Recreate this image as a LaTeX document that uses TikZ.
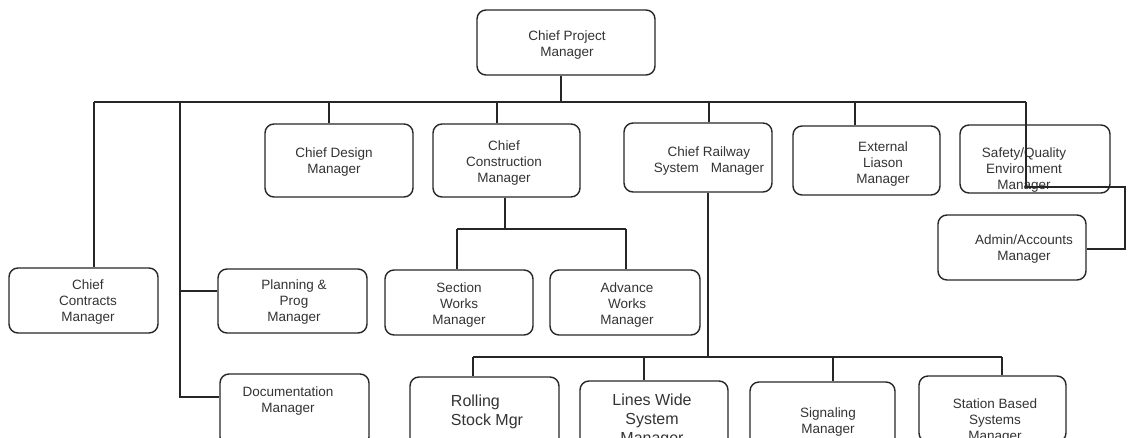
\documentclass[tikz,border=0pt]{standalone}
\usepackage{fontspec}
\setmainfont{Liberation Sans}
\begin{document}
\begin{tikzpicture}[x=1pt,y=-1pt,
  box/.style={draw=black!85,line width=1.4pt,rounded corners=9pt,inner sep=0pt},
  txt/.style={align=center,text=black!80,font=\fontsize{13.5}{16}\selectfont,inner sep=0pt},
  bigtxt/.style={txt,font=\fontsize{16}{19}\selectfont},
  link/.style={draw=black!85,line width=1.2pt}]
\useasboundingbox (0,0) rectangle (1128,437);
\clip (0,0) rectangle (1128,437);

% boxes
\node[box,minimum width=178,minimum height=65] (cpm) at (566,42.5) {};
\node[box,minimum width=148,minimum height=73] (cdm) at (339,160.5) {};
\node[box,minimum width=147,minimum height=73] (ccm) at (506.5,160.5) {};
\node[box,minimum width=148,minimum height=69] (crs) at (698,157.5) {};
\node[box,minimum width=147,minimum height=69] (ext) at (866.5,160.5) {};
\node[box,minimum width=150,minimum height=68] (sqe) at (1035,159) {};
\node[box,minimum width=148,minimum height=65] (adm) at (1012,247.5) {};
\node[box,minimum width=149,minimum height=65] (ccon) at (83.5,300.5) {};
\node[box,minimum width=149,minimum height=64] (plan) at (292.5,301) {};
\node[box,minimum width=148,minimum height=65] (sec) at (459,302.5) {};
\node[box,minimum width=150,minimum height=65] (adv) at (625,302.5) {};
\node[box,minimum width=149,minimum height=72] (doc) at (294.5,410) {};
\node[box,minimum width=149,minimum height=72] (roll) at (484.5,413) {};
\node[box,minimum width=148,minimum height=72] (lwm) at (654,417) {};
\node[box,minimum width=145,minimum height=72] (sig) at (822.5,418) {};
\node[box,minimum width=147,minimum height=66] (stn) at (992.5,409) {};

% labels
\node[txt] (t-cpm) at (567,45.5) {Chief Project\\Manager};
\node[txt] (t-cdm) at (334,162) {Chief Design\\Manager};
\node[txt] (t-ccm) at (504,163.5) {Chief\\Construction\\Manager};
\node[txt] (t-crs) at (709,161.5) {Chief Railway\\System\hspace{0.9em}Manager};
\node[txt] (t-ext) at (883,164) {External\\Liason\\Manager};
\node[txt] (t-sqe) at (1024,170) {Safety/Quality\\Environment\\Manager};
\node[txt] (t-adm) at (1024,249) {Admin/Accounts\\Manager};
\node[txt] (t-ccon) at (88,302.5) {Chief\\Contracts\\Manager};
\node[txt] (t-plan) at (294,302.5) {Planning \&\\Prog\\Manager};
\node[txt] (t-sec) at (459,305) {Section\\Works\\Manager};
\node[txt] (t-adv) at (627,305) {Advance\\Works\\Manager};
\node[txt] (t-doc) at (288,401) {Documentation\\Manager};
\node[bigtxt,align=left] (t-roll) at (487,411.5) {Rolling\\Stock Mgr};
\node[bigtxt] (t-lwm) at (652,420) {Lines Wide\\System\\Manager};
\node[txt] (t-sig) at (828,422) {Signaling\\Manager};
\node[txt] (t-stn) at (995,421) {Station Based\\Systems\\Manager};

% junction points on the main bus
\coordinate (jP) at (561,102);
\coordinate (jL) at (94,102);
\coordinate (jM) at (180,102);
\coordinate (jD) at (329,102);
\coordinate (jC) at (497,102);
\coordinate (jR) at (709,102);
\coordinate (jE) at (855,102);
\coordinate (jS) at (1026,102);

% main bus
\draw[link] (jP |- cpm.south) -- (jP);
\draw[link] (jL) -- (jS);
\draw[link] (jL) -- (jL |- ccon.north);
\draw[link] (jD) -- (jD |- cdm.north);
\draw[link] (jC) -- (jC |- ccm.north);
\draw[link] (jR) -- (jR |- crs.north);
\draw[link] (jE) -- (jE |- ext.north);

% planning and documentation branch
\coordinate (pP) at (180,291);
\coordinate (pD) at (180,397);
\draw[link] (jM) -- (pD) -- (pD -| doc.west);
\draw[link] (pP) -- (pP -| plan.west);

% safety line to admin
\coordinate (sA) at (1026,187);
\coordinate (sB) at (1125,187);
\coordinate (sC) at (1125,249);
\draw[link] (jS) -- (sA) -- (sB) -- (sC) -- (sC -| adm.east);

% construction branch
\coordinate (cT) at (505,229);
\coordinate (cL) at (457,229);
\coordinate (cR) at (626,229);
\draw[link] (cT |- ccm.south) -- (cT);
\draw[link] (cL) -- (cR);
\draw[link] (cL) -- (cL |- sec.north);
\draw[link] (cR) -- (cR |- adv.north);

% railway systems branch
\coordinate (rT) at (708,357);
\coordinate (r1) at (473,357);
\coordinate (r2) at (644,357);
\coordinate (r3) at (833,357);
\coordinate (r4) at (1002,357);
\draw[link] (rT |- crs.south) -- (rT);
\draw[link] (r1) -- (r4);
\draw[link] (r1) -- (r1 |- roll.north);
\draw[link] (r2) -- (r2 |- lwm.north);
\draw[link] (r3) -- (r3 |- sig.north);
\draw[link] (r4) -- (r4 |- stn.north);
\end{tikzpicture}
\end{document}
